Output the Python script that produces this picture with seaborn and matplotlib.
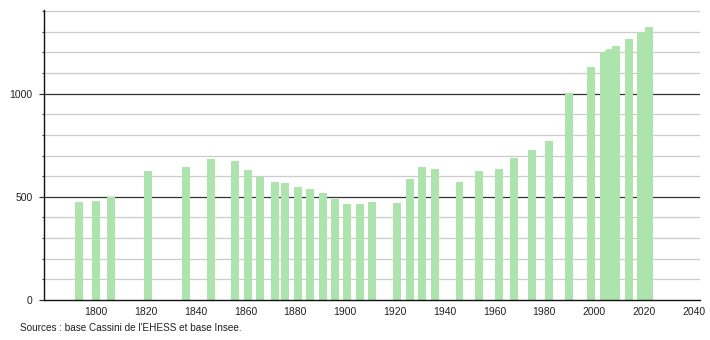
import matplotlib
matplotlib.use("Agg")
import matplotlib.pyplot as plt
import seaborn as sns
import pandas as pd
from matplotlib.ticker import MultipleLocator

years = [1793, 1800, 1806, 1821, 1836, 1846, 1856, 1861, 1866, 1872, 1876, 1881,
         1886, 1891, 1896, 1901, 1906, 1911, 1921, 1926, 1931, 1936, 1946, 1954,
         1962, 1968, 1975, 1982, 1990, 1999, 2004, 2006, 2007, 2009, 2014, 2019, 2022]
population = [477, 481, 498, 626, 642, 684, 675, 631, 594, 573, 568, 549,
              539, 519, 490, 463, 463, 476, 471, 587, 644, 636, 573, 626,
              636, 689, 728, 772, 1003, 1128, 1200, 1210, 1214, 1232, 1265, 1300, 1324]
x_ticks = [1800, 1820, 1840, 1860, 1880, 1900, 1920, 1940, 1960, 1980, 2000, 2020, 2040]
y_ticks = [0, 500, 1000]
source_text = "Sources : base Cassini de l'EHESS et base Insee."

df = pd.DataFrame({"year": years, "pop": population})

sns.set_style("white")
plt.rcParams["font.family"] = ["Liberation Sans", "DejaVu Sans"]

fig = plt.figure(figsize=(7.1, 3.4), dpi=100)
ax = fig.add_axes([44 / 710, 40 / 340, 656 / 710, 290 / 340])

sns.barplot(data=df, x="year", y="pop", native_scale=True, color="#ade3ad",
            saturation=1, ax=ax, errorbar=None, zorder=2)
bw = 3.2
for p in ax.patches:
    cx = p.get_x() + p.get_width() / 2
    p.set_width(bw)
    p.set_x(cx - bw / 2)
    p.set_edgecolor("none")

ax.set_xlim(1779.1, 2042.6)
ax.set_ylim(0, 1405)
ax.set_axisbelow(True)

ax.set_yticks(y_ticks)
ax.yaxis.set_minor_locator(MultipleLocator(100))
ax.set_xticks(x_ticks)
ax.set_xticklabels([str(t) for t in x_ticks])
ax.tick_params(axis="x", length=0, labelsize=7.5, pad=5, colors="#222222")
ax.tick_params(axis="y", which="major", length=3.8, width=0.8, labelsize=7.5,
               pad=4.5, color="#222222", labelcolor="#222222", left=True)
ax.tick_params(axis="y", which="minor", length=1.6, width=0.8, color="#444444", left=True)

for v in range(100, 1401, 100):
    if v % 500 == 0:
        ax.axhline(v, color="#333333", lw=0.9, zorder=0)
    else:
        ax.axhline(v, color="#cccccc", lw=0.9, zorder=0)

for s in ["top", "right"]:
    ax.spines[s].set_visible(False)
for s in ["left", "bottom"]:
    ax.spines[s].set_color("#111111")
    ax.spines[s].set_linewidth(1.0)

ax.set_xlabel("")
ax.set_ylabel("")

fig.text(20 / 710, 1 - 328 / 340, source_text, fontsize=7.2, color="#222222",
         va="center", ha="left")

fig.savefig("out.png", dpi=100)
